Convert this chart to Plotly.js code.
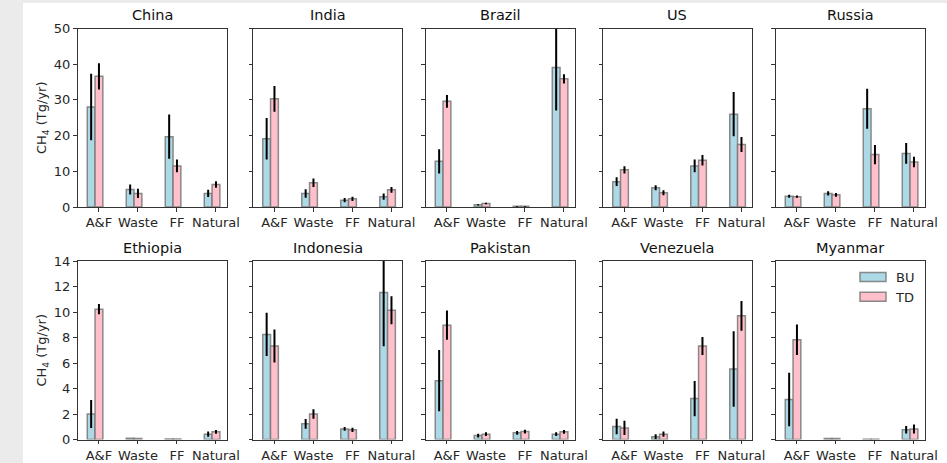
<!DOCTYPE html>
<html>
<head>
<meta charset="utf-8">
<script src="https://cdn.plot.ly/plotly-3.0.1.min.js"></script>
<style>
  html, body { margin: 0; padding: 0; background: #ebebeb; width: 947px; height: 463px; overflow: hidden; }
  #chart { position: absolute; left: 23px; top: 3px; width: 924px; height: 460px; background: #ffffff; }
</style>
</head>
<body>
<div id="chart"></div>
<script>
// ---- data ----
const sectors = ['A&F', 'Waste', 'FF', 'Natural'];
const countries = ['China', 'India', 'Brazil', 'US', 'Russia', 'Ethiopia', 'Indonesia', 'Pakistan', 'Venezuela', 'Myanmar'];

const chinaBU = [28.0, 4.9, 19.7, 3.8];
const chinaBUErr = [9.3, 1.4, 6.2, 1.0];
const chinaTD = [36.6, 3.8, 11.5, 6.3];
const chinaTDErr = [3.7, 1.3, 1.8, 0.9];

const indiaBU = [19.1, 3.8, 1.9, 2.9];
const indiaBUErr = [5.8, 1.2, 0.6, 0.9];
const indiaTD = [30.3, 6.8, 2.3, 4.8];
const indiaTDErr = [3.6, 1.2, 0.6, 0.8];

const brazilBU = [12.8, 0.6, 0.2, 39.1];
const brazilBUErr = [3.4, 0.2, 0.1, 12.1];
const brazilTD = [29.6, 1.0, 0.2, 35.9];
const brazilTDErr = [1.8, 0.2, 0.1, 1.3];

const usBU = [7.1, 5.4, 11.5, 26.0];
const usBUErr = [1.2, 0.7, 1.8, 6.2];
const usTD = [10.4, 4.0, 13.1, 17.5];
const usTDErr = [1.0, 0.7, 1.5, 2.1];

const russiaBU = [3.0, 3.8, 27.5, 15.0];
const russiaBUErr = [0.4, 0.6, 5.6, 2.9];
const russiaTD = [2.9, 3.4, 14.7, 12.6];
const russiaTDErr = [0.3, 0.5, 2.7, 1.5];

const ethiopiaBU = [2.0, 0.1, 0.03, 0.42];
const ethiopiaBUErr = [1.1, 0.0, 0.0, 0.2];
const ethiopiaTD = [10.22, 0.08, 0.03, 0.6];
const ethiopiaTDErr = [0.4, 0.0, 0.0, 0.15];

const indonesiaBU = [8.24, 1.23, 0.83, 11.52];
const indonesiaBUErr = [1.7, 0.38, 0.15, 4.2];
const indonesiaTD = [7.33, 2.0, 0.76, 10.14];
const indonesiaTDErr = [1.3, 0.38, 0.17, 1.1];

const pakistanBU = [4.61, 0.31, 0.52, 0.42];
const pakistanBUErr = [2.4, 0.15, 0.15, 0.15];
const pakistanTD = [8.97, 0.42, 0.62, 0.6];
const pakistanTDErr = [1.15, 0.15, 0.15, 0.15];

const venezuelaBU = [1.02, 0.21, 3.21, 5.53];
const venezuelaBUErr = [0.6, 0.2, 1.38, 2.97];
const venezuelaTD = [0.91, 0.42, 7.33, 9.7];
const venezuelaTDErr = [0.56, 0.2, 0.7, 1.17];

const myanmarBU = [3.13, 0.08, 0.02, 0.76];
const myanmarBUErr = [2.1, 0.0, 0.0, 0.29];
const myanmarTD = [7.82, 0.07, 0.02, 0.83];
const myanmarTDErr = [1.2, 0.0, 0.0, 0.35];

const seriesBU = [chinaBU, indiaBU, brazilBU, usBU, russiaBU, ethiopiaBU, indonesiaBU, pakistanBU, venezuelaBU, myanmarBU];
const seriesBUErr = [chinaBUErr, indiaBUErr, brazilBUErr, usBUErr, russiaBUErr, ethiopiaBUErr, indonesiaBUErr, pakistanBUErr, venezuelaBUErr, myanmarBUErr];
const seriesTD = [chinaTD, indiaTD, brazilTD, usTD, russiaTD, ethiopiaTD, indonesiaTD, pakistanTD, venezuelaTD, myanmarTD];
const seriesTDErr = [chinaTDErr, indiaTDErr, brazilTDErr, usTDErr, russiaTDErr, ethiopiaTDErr, indonesiaTDErr, pakistanTDErr, venezuelaTDErr, myanmarTDErr];

// ---- layout geometry (paper fractions) ----
const W = 924, H = 460;
const colLeftPx = [54.5, 230, 402.5, 580, 752.5];
const colWidthPx = 149;
const rowTopPx = [25.5, 258];
const rowHeightPx = 178.5;

const FONT = '"DejaVu Sans", sans-serif';
const INK = '#262626';
const AXC = '#333333';
const TICKSIZE = 13;

const traces = [];
const layout = {
  width: W, height: H,
  margin: {l: 0, r: 0, t: 0, b: 0},
  paper_bgcolor: '#ffffff',
  plot_bgcolor: '#ffffff',
  font: {family: FONT, size: TICKSIZE, color: INK},
  barmode: 'overlay',
  showlegend: true,
  legend: {
    x: 0.9015, y: 0.437, xanchor: 'left', yanchor: 'top',
    bgcolor: 'rgba(255,255,255,0)', borderwidth: 0,
    font: {family: FONT, size: 13, color: INK},
    itemwidth: 30, tracegroupgap: 0
  },
  annotations: []
};

for (let i = 0; i < countries.length; i++) {
  const row = i < 5 ? 0 : 1;
  const col = i % 5;
  const n = i + 1;
  const xs = n === 1 ? 'x' : 'x' + n;
  const ys = n === 1 ? 'y' : 'y' + n;
  const xd = [colLeftPx[col] / W, (colLeftPx[col] + colWidthPx) / W];
  const yd = [1 - (rowTopPx[row] + rowHeightPx) / H, 1 - rowTopPx[row] / H];

  layout['xaxis' + (n === 1 ? '' : n)] = {
    domain: xd, anchor: ys, type: 'category',
    range: [-0.55, 3.27],
    showgrid: false, zeroline: false,
    showline: true, mirror: true, linecolor: AXC, linewidth: 1,
    ticks: 'outside', ticklen: 3.5, tickwidth: 1, tickcolor: AXC,
    tickfont: {family: FONT, size: TICKSIZE, color: INK},
    fixedrange: true
  };
  const yax = {
    domain: yd, anchor: xs,
    range: row === 0 ? [0, 50] : [0, 14],
    dtick: row === 0 ? 10 : 2, tick0: 0,
    showgrid: false, zeroline: false,
    showline: true, mirror: true, linecolor: AXC, linewidth: 1,
    ticks: 'outside', ticklen: 3.5, tickwidth: 1, tickcolor: AXC,
    showticklabels: col === 0,
    tickfont: {family: FONT, size: TICKSIZE, color: INK},
    fixedrange: true
  };
  if (col === 0) {
    yax.title = {text: 'CH<sub>4</sub> (Tg/yr)', font: {family: FONT, size: 13, color: INK}, standoff: 4};
  }
  layout['yaxis' + (n === 1 ? '' : n)] = yax;
  layout.annotations.push({
    text: countries[i], xref: 'paper', yref: 'paper',
    x: (xd[0] + xd[1]) / 2, y: yd[1], xanchor: 'center', yanchor: 'bottom',
    yshift: 3, showarrow: false,
    font: {family: FONT, size: 14.5, color: '#111111'}
  });

  traces.push({
    type: 'bar', name: 'BU', legendgroup: 'BU', showlegend: i === 0,
    x: sectors, y: seriesBU[i], xaxis: xs, yaxis: ys,
    width: 0.2, offset: -0.3,
    marker: {color: '#add8e6', line: {color: 'rgba(120,120,120,0.85)', width: 1.5}},
    error_y: {type: 'data', array: seriesBUErr[i], visible: true, color: '#000000', thickness: 2, width: 0},
    hoverinfo: 'skip'
  });
  traces.push({
    type: 'bar', name: 'TD', legendgroup: 'TD', showlegend: i === 0,
    x: sectors, y: seriesTD[i], xaxis: xs, yaxis: ys,
    width: 0.2, offset: -0.1,
    marker: {color: '#ffc0cb', line: {color: 'rgba(120,120,120,0.85)', width: 1.5}},
    error_y: {type: 'data', array: seriesTDErr[i], visible: true, color: '#000000', thickness: 2, width: 0},
    hoverinfo: 'skip'
  });
}

Plotly.newPlot('chart', traces, layout, {displayModeBar: false, staticPlot: true}).then(function (gd) {
  // widen the legend patches to the flat rectangles used in the reference
  gd.querySelectorAll('.legend .legendpoints path').forEach(function (p) {
    p.setAttribute('d', 'M10,4.5H-16V-4.5H10Z');
  });
});
</script>
</body>
</html>
